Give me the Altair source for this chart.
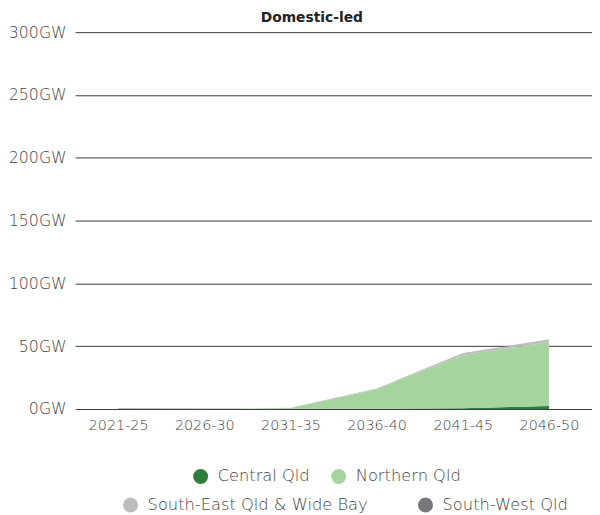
import altair as alt
import pandas as pd

periods = ["2021-25", "2026-30", "2031-35", "2036-40", "2041-45", "2046-50"]
regions = ["Central Qld", "Northern Qld", "South-East Qld & Wide Bay", "South-West Qld"]
central = [0.0, 0.0, 0.0, 0.1, 0.5, 2.4]
northern = [0.0, 0.1, 0.7, 15.7, 42.4, 50.8]
seq_wb = [0.0, 0.0, 0.2, 0.5, 1.3, 2.0]
south_west = [0.3, 0.2, 0.0, 0.1, 0.2, 0.2]
colors = ["#2e7d3c", "#a6d49e", "#bdbdbf", "#78787c"]
y_ticks = [0, 50, 100, 150, 200, 250, 300]

series = [central, northern, seq_wb, south_west]
rows = []
for ri, (reg, vals) in enumerate(zip(regions, series)):
    for pi, (p, v) in enumerate(zip(periods, vals)):
        rows.append({"period": p, "region": reg, "order": ri, "value": v})
df = pd.DataFrame(rows)

FONT = "DejaVu Sans"
LABEL_COLOR = "#444444"

base = alt.Chart(df).transform_stack(
    stack="value", groupby=["period"], as_=["y0", "y1"],
    sort=[alt.SortField("order", order="ascending")]
)

x = alt.X("period:O", sort=periods, title=None,
          scale=alt.Scale(type="point", padding=0.5),
          axis=alt.Axis(labelAngle=0, domain=False, ticks=False, labelPadding=10,
                        labelFontSize=14.5, labelColor=LABEL_COLOR, labelFont=FONT,
                        labelFontWeight=200))
y = alt.Y("y0:Q", title=None,
          scale=alt.Scale(domain=[0, 300]),
          axis=alt.Axis(values=y_ticks, labelExpr="datum.value + 'GW'", domain=False,
                        ticks=False, labelPadding=9, labelFontSize=16,
                        labelColor=LABEL_COLOR, labelFont=FONT, labelFontWeight=200,
                        grid=True, gridColor="#3a3a3a", gridWidth=1))


def legend(lx, ly, colpad):
    return alt.Legend(title=None, orient="none", direction="horizontal",
                      legendX=lx, legendY=ly, symbolType="circle",
                      symbolSize=230, labelFontSize=16.5, labelColor=LABEL_COLOR,
                      labelFont=FONT, labelFontWeight=200, labelLimit=0,
                      columnPadding=colpad, labelOffset=9, symbolOpacity=1,
                      symbolStrokeWidth=0)


layer_a = base.transform_filter(
    alt.FieldOneOfPredicate(field="region", oneOf=regions[:2])
).mark_area(interpolate="linear").encode(
    x=x, y=y, y2="y1:Q",
    color=alt.Color("region:N",
                    scale=alt.Scale(domain=regions[:2], range=colors[:2]),
                    legend=legend(119, 442, 21)),
    order="order:Q",
)

layer_b = base.transform_filter(
    alt.FieldOneOfPredicate(field="region", oneOf=regions[2:])
).mark_area(interpolate="linear").encode(
    x=x, y=y, y2="y1:Q",
    color=alt.Color("region:N",
                    scale=alt.Scale(domain=regions[2:], range=colors[2:]),
                    legend=legend(48, 471, 50)),
    order="order:Q",
)

chart = alt.layer(layer_a, layer_b).resolve_scale(color="independent").properties(
    width=524, height=382,
    padding={"left": 0, "top": 0, "right": 0, "bottom": 0},
    title=alt.TitleParams("Domestic-led", fontSize=14, font=FONT, fontWeight="bold",
                          color="#222222", anchor="middle", offset=-1, dx=-22),
).configure_view(strokeWidth=0, stroke="transparent")

chart.save("out.html", embed_options={"renderer": "svg", "actions": False})
